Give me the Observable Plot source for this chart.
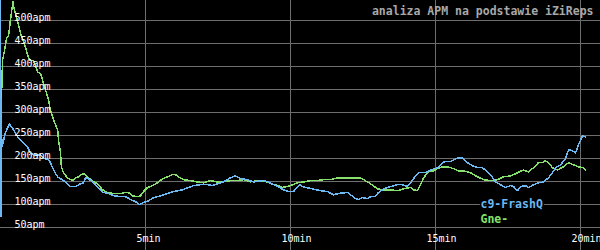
<!DOCTYPE html>
<html>
<head>
<meta charset="utf-8">
<script src="https://cdn.jsdelivr.net/npm/d3@7"></script>
<script src="https://cdn.jsdelivr.net/npm/@observablehq/plot@0.6"></script>
<style>
  html, body { margin: 0; padding: 0; background: #000; }
  #chart svg { display: block; }
</style>
</head>
<body>
<div id="chart"></div>
<script>
const title = "analiza APM na podstawie iZiReps";
const seriesNames = ["c9-FrashQ", "Gne-"];
const seriesColors = ["#6cb8f2", "#86e06e"];
const yTicks = [50, 100, 150, 200, 250, 300, 350, 400, 450, 500];
const xTicks = [5, 10, 15, 20];

// c9-FrashQ (minutes, apm)
const blueT = [0, 0.02, 0.03, 0.07, 0.10, 0.14, 0.17, 0.24, 0.31, 0.41, 0.59, 0.79, 0.93, 1.03, 1.14, 1.38, 1.48, 1.66, 1.72, 1.83, 1.97, 2.07, 2.24, 2.41, 2.59, 2.76, 2.86, 2.93, 3.03, 3.21, 3.38, 3.55, 3.72, 3.90, 4.14, 4.31, 4.48, 4.66, 4.79, 4.93, 5.10, 5.28, 5.52, 5.76, 5.97, 6.28, 6.48, 6.66, 6.90, 7.14, 7.31, 7.48, 7.69, 7.93, 8.10, 8.28, 8.52, 8.72, 9.07, 9.31, 9.55, 9.76, 9.93, 10.10, 10.24, 10.31, 10.41, 10.52, 10.76, 11.03, 11.28, 11.48, 11.66, 11.97, 12.07, 12.24, 12.34, 12.48, 12.66, 12.76, 12.93, 13.03, 13.21, 13.45, 13.69, 13.86, 14.03, 14.14, 14.24, 14.41, 14.66, 14.83, 15.07, 15.24, 15.34, 15.52, 15.69, 15.79, 15.93, 16.10, 16.28, 16.45, 16.62, 16.79, 16.90, 17.07, 17.24, 17.41, 17.59, 17.69, 17.83, 17.93, 18.10, 18.21, 18.38, 18.55, 18.72, 18.90, 19.03, 19.14, 19.31, 19.48, 19.59, 19.72, 19.83, 19.93, 20.07, 20.17];
const blueApm = [543, 74, 219, 240, 234, 251, 255, 266, 275, 266, 247, 234, 225, 212, 208, 208, 201, 197, 191, 175, 160, 156, 149, 139, 139, 145, 147, 158, 156, 147, 136, 126, 124, 119, 117, 117, 111, 106, 100, 104, 108, 115, 119, 124, 128, 132, 137, 141, 143, 143, 141, 145, 149, 158, 162, 156, 154, 149, 152, 147, 139, 132, 128, 128, 137, 143, 139, 137, 134, 130, 128, 121, 124, 126, 121, 113, 111, 115, 113, 117, 117, 126, 134, 139, 143, 143, 139, 147, 156, 169, 169, 175, 180, 191, 193, 193, 199, 201, 201, 191, 184, 180, 180, 171, 165, 149, 143, 137, 141, 139, 130, 139, 141, 137, 143, 147, 149, 158, 169, 180, 186, 199, 219, 217, 212, 230, 249, 247];

// Gne- (minutes, apm)
const greenT = [0.03, 0.07, 0.14, 0.21, 0.28, 0.31, 0.34, 0.43, 0.46, 0.58, 0.69, 0.86, 0.97, 1.03, 1.14, 1.28, 1.38, 1.48, 1.66, 1.72, 1.83, 1.97, 2.00, 2.07, 2.10, 2.17, 2.31, 2.48, 2.59, 2.69, 2.83, 2.93, 3.03, 3.21, 3.34, 3.52, 3.69, 3.90, 4.14, 4.31, 4.41, 4.55, 4.72, 4.83, 4.93, 5.07, 5.24, 5.41, 5.59, 5.76, 5.93, 6.03, 6.14, 6.31, 6.55, 6.79, 7.00, 7.24, 7.48, 7.69, 7.93, 8.17, 8.38, 8.62, 8.86, 9.21, 9.41, 9.59, 9.72, 9.90, 10.00, 10.24, 10.45, 10.69, 10.93, 11.14, 11.38, 11.62, 11.97, 12.17, 12.41, 12.52, 12.76, 13.00, 13.21, 13.45, 13.69, 13.90, 14.14, 14.24, 14.38, 14.48, 14.59, 14.76, 14.93, 15.07, 15.24, 15.41, 15.62, 15.79, 15.97, 16.21, 16.45, 16.66, 16.90, 17.14, 17.34, 17.59, 17.83, 18.03, 18.21, 18.38, 18.55, 18.69, 18.79, 18.90, 19.03, 19.21, 19.41, 19.59, 19.76, 19.93, 20.10, 20.17];
const greenApm = [320, 413, 435, 461, 468, 483, 500, 541, 528, 500, 472, 442, 418, 413, 413, 388, 385, 364, 327, 305, 284, 262, 240, 212, 182, 169, 158, 152, 158, 160, 167, 165, 158, 150, 145, 132, 126, 124, 124, 126, 126, 119, 117, 119, 128, 137, 141, 147, 156, 160, 165, 165, 160, 154, 152, 149, 147, 152, 149, 149, 152, 152, 154, 149, 152, 149, 143, 141, 137, 139, 141, 147, 149, 152, 152, 154, 154, 158, 158, 158, 158, 154, 145, 134, 132, 132, 130, 134, 137, 132, 130, 143, 158, 171, 173, 178, 182, 182, 178, 173, 173, 169, 160, 154, 152, 154, 160, 162, 169, 175, 171, 180, 191, 191, 195, 191, 180, 175, 182, 191, 186, 182, 180, 175];

const blue = blueT.map((t, i) => ({t, apm: blueApm[i]}));
const green = greenT.map((t, i) => ({t, apm: greenApm[i]}));

const mono = "DejaVu Sans Mono";
const W = 600, H = 250;

const chart = Plot.plot({
  width: W,
  height: H,
  margin: 0,
  x: {domain: [0, W / 29], axis: null},
  y: {domain: [0, 543.3], axis: null},
  style: {background: "#000", color: "#fff", fontFamily: mono},
  marks: [
    Plot.ruleY(yTicks, {stroke: "#6e6e6e", strokeWidth: 1, shapeRendering: "crispEdges"}),
    Plot.ruleX(xTicks, {stroke: "#6e6e6e", strokeWidth: 1, shapeRendering: "crispEdges"}),
    Plot.line(green, {x: "t", y: "apm", stroke: seriesColors[1], strokeWidth: 1.5, shapeRendering: "crispEdges", clip: true}),
    Plot.line(blue, {x: "t", y: "apm", stroke: seriesColors[0], strokeWidth: 1.5, shapeRendering: "crispEdges", clip: true}),
    Plot.text(yTicks, {
      y: d => d, frameAnchor: "left", text: d => d + "apm",
      textAnchor: "start", lineAnchor: "middle", dx: 14, dy: -2.5,
      fill: "#fff", fontSize: 10, fontFamily: mono
    }),
    Plot.text(xTicks, {
      x: d => d, frameAnchor: "bottom", text: d => d + "min",
      textAnchor: "start", lineAnchor: "middle", dx: -9, dy: -12.2,
      fill: "#fff", fontSize: 10, fontFamily: mono
    }),
    Plot.text([title], {
      frameAnchor: "top-right", text: d => d, textAnchor: "end", lineAnchor: "middle",
      dx: -7, dy: 10.5, fill: "#a8a8a8", fontSize: 11.5, fontWeight: "bold", fontFamily: mono
    }),
    Plot.text([seriesNames[0]], {
      frameAnchor: "bottom-right", text: d => d, textAnchor: "start", lineAnchor: "middle",
      dx: -120, dy: -46.5, fill: seriesColors[0], stroke: "#000", strokeWidth: 3,
      fontSize: 11.5, fontWeight: "bold", fontFamily: mono
    }),
    Plot.text([seriesNames[1]], {
      frameAnchor: "bottom-right", text: d => d, textAnchor: "start", lineAnchor: "middle",
      dx: -120, dy: -31.5, fill: seriesColors[1], stroke: "#000", strokeWidth: 3,
      fontSize: 11.5, fontWeight: "bold", fontFamily: mono
    })
  ]
});
document.getElementById("chart").appendChild(chart);
</script>
</body>
</html>
